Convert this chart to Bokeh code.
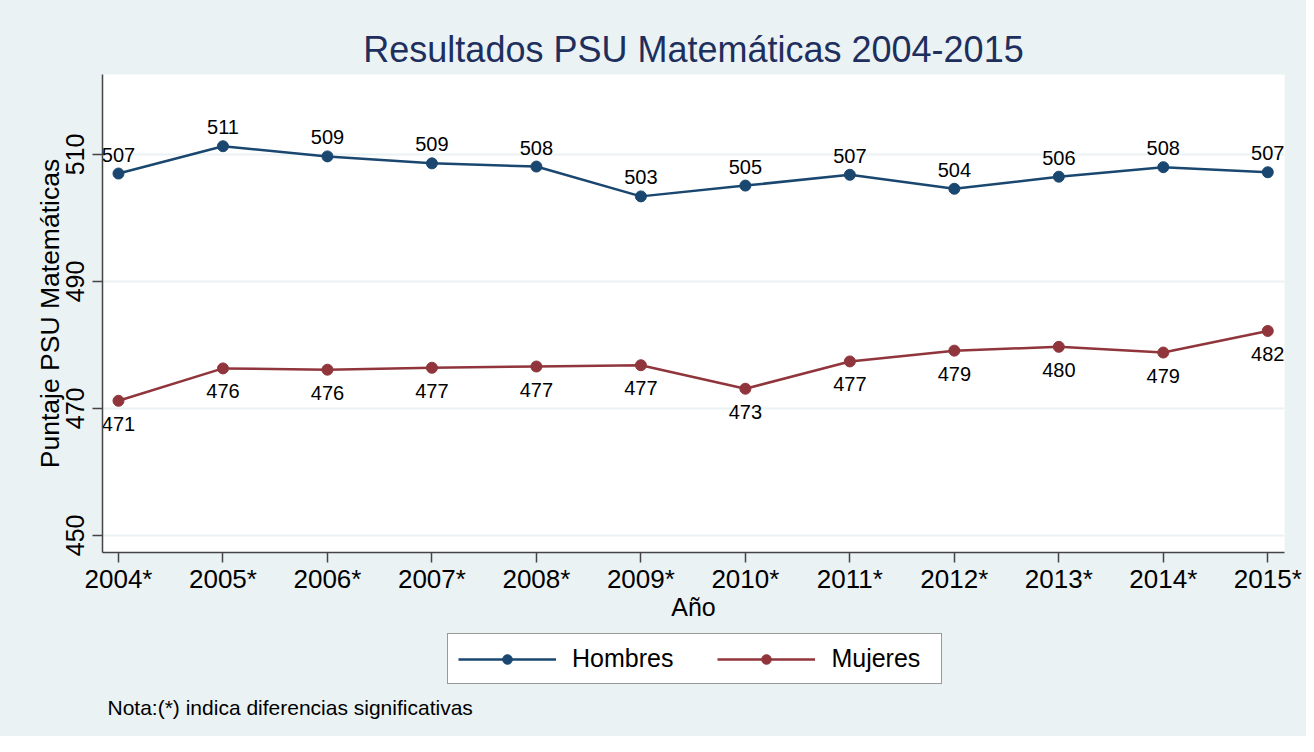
from bokeh.plotting import figure
from bokeh.layouts import column
from bokeh.models import Legend, LegendItem, FixedTicker, Range1d, ColumnDataSource, Title, Label
from bokeh.embed import file_html
from bokeh.resources import INLINE
from bokeh.core.properties import value

years = [2004, 2005, 2006, 2007, 2008, 2009, 2010, 2011, 2012, 2013, 2014, 2015]
year_labels = ["2004*", "2005*", "2006*", "2007*", "2008*", "2009*",
               "2010*", "2011*", "2012*", "2013*", "2014*", "2015*"]
hombres = [507.0, 511.3, 509.7, 508.6, 508.1, 503.4, 505.1, 506.8, 504.6, 506.5, 508.0, 507.2]
hombres_labels = ["507", "511", "509", "509", "508", "503", "505", "507", "504", "506", "508", "507"]
mujeres = [471.2, 476.3, 476.1, 476.4, 476.6, 476.8, 473.1, 477.4, 479.1, 479.7, 478.8, 482.2]
mujeres_labels = ["471", "476", "476", "477", "477", "477", "473", "477", "479", "480", "479", "482"]
y_ticks = [450, 470, 490, 510]

title_text = "Resultados PSU Matemáticas 2004-2015"
x_title = "Año"
y_title = "Puntaje PSU Matemáticas"
note_text = "Nota:(*) indica diferencias significativas"
series_names = ["Hombres", "Mujeres"]

FONT = "Liberation Sans"
BG = "#eaf2f3"
C_H = "#1a476f"
C_M = "#90353b"

src_h = ColumnDataSource(dict(x=years, y=hombres, t=hombres_labels))
src_m = ColumnDataSource(dict(x=years, y=mujeres, t=mujeres_labels))

# ---------------- main chart ----------------
p = figure(frame_width=1182, frame_height=478, output_backend="svg", toolbar_location=None,
           x_range=Range1d(2003.847, 2015.16), y_range=Range1d(447.3, 522.6),
           min_border_left=102, min_border_right=22, min_border_top=74, min_border_bottom=78)
p.width = None
p.height = None
p.background_fill_color = "white"
p.border_fill_color = BG
p.outline_line_color = None

p.line("x", "y", source=src_h, line_color=C_H, line_width=2.5)
p.scatter("x", "y", source=src_h, size=11, fill_color=C_H, line_color=C_H, marker="circle")
p.line("x", "y", source=src_m, line_color=C_M, line_width=2.5)
p.scatter("x", "y", source=src_m, size=11, fill_color=C_M, line_color=C_M, marker="circle")

p.text("x", "y", text="t", source=src_h, text_font=value(FONT), text_font_size="20px",
       text_align="center", text_baseline="alphabetic", y_offset=-19, text_color="black")
p.text("x", "y", text="t", source=src_m, text_font=value(FONT), text_font_size="20px",
       text_align="center", text_baseline="alphabetic", y_offset=23, text_color="black")

p.xaxis.ticker = FixedTicker(ticks=years)
p.xaxis.major_label_overrides = {y: l for y, l in zip(years, year_labels)}
p.yaxis.ticker = FixedTicker(ticks=y_ticks)
for ax in (p.xaxis[0], p.yaxis[0]):
    ax.axis_line_color = "#444444"
    ax.axis_line_width = 1.5
    ax.major_tick_line_color = "#444444"
    ax.major_tick_line_width = 1.5
    ax.major_tick_in = 0
    ax.major_tick_out = 10
    ax.minor_tick_line_color = None
    ax.major_label_text_font = FONT
    ax.major_label_text_color = "black"
    ax.axis_label_text_font = FONT
    ax.axis_label_text_font_style = "normal"
    ax.axis_label_text_color = "black"
p.xaxis.major_label_text_font_size = "26px"
p.yaxis.major_label_text_font_size = "25px"
p.xaxis.axis_label_text_font_size = "25px"
p.yaxis.axis_label_text_font_size = "26.5px"
p.xaxis.axis_label = x_title
p.yaxis.axis_label = y_title
p.xaxis.major_label_standoff = 1
p.xaxis.axis_label_standoff = -4
p.yaxis.major_label_orientation = "vertical"
p.yaxis.major_label_standoff = 8
p.yaxis.axis_label_standoff = -1

p.xgrid.grid_line_color = None
p.ygrid.ticker = FixedTicker(ticks=y_ticks)
p.ygrid.grid_line_color = BG
p.ygrid.grid_line_width = 2

p.add_layout(Title(text=title_text, align="center", text_font=FONT, text_font_size="36px",
                   text_font_style="normal", text_color="#1e2f5e", standoff=9), "above")

# ---------------- legend + note strip (frame aligned with main chart) ----------------
p2 = figure(width=1306, height=106, output_backend="svg", toolbar_location=None,
            x_axis_type=None, y_axis_type=None, min_border=0,
            x_range=Range1d(0, 1), y_range=Range1d(0, 1))
p2.background_fill_color = None
p2.border_fill_color = BG
p2.outline_line_color = None
p2.grid.visible = False

# same series, out of this strip's view range: they only feed the legend
lh = p2.line("x", "y", source=src_h, line_color=C_H, line_width=2.5)
sh = p2.scatter("x", "y", source=src_h, size=11, fill_color=C_H, line_color=C_H, marker="circle")
lm = p2.line("x", "y", source=src_m, line_color=C_M, line_width=2.5)
sm = p2.scatter("x", "y", source=src_m, size=11, fill_color=C_M, line_color=C_M, marker="circle")

legend = Legend(items=[LegendItem(label=series_names[0], renderers=[lh, sh]),
                       LegendItem(label=series_names[1], renderers=[lm, sm])],
                location=(345, 52), orientation="horizontal",
                glyph_width=98, glyph_height=24, label_standoff=16, spacing=44,
                label_width=100, padding=10, margin=0,
                label_text_font=FONT, label_text_font_size="25px", label_text_color="black",
                border_line_color="#333333", border_line_width=1.5,
                background_fill_color="white", background_fill_alpha=1.0)
p2.add_layout(legend, "center")

p2.add_layout(Label(x=5, y=29, x_units="screen", y_units="screen", text=note_text,
                    text_font=FONT, text_font_size="21px", text_color="black",
                    text_align="left", text_baseline="alphabetic"))

layout = column(p, p2, spacing=0, styles={"background-color": BG})
open("out.html", "w").write(file_html(layout, INLINE))
